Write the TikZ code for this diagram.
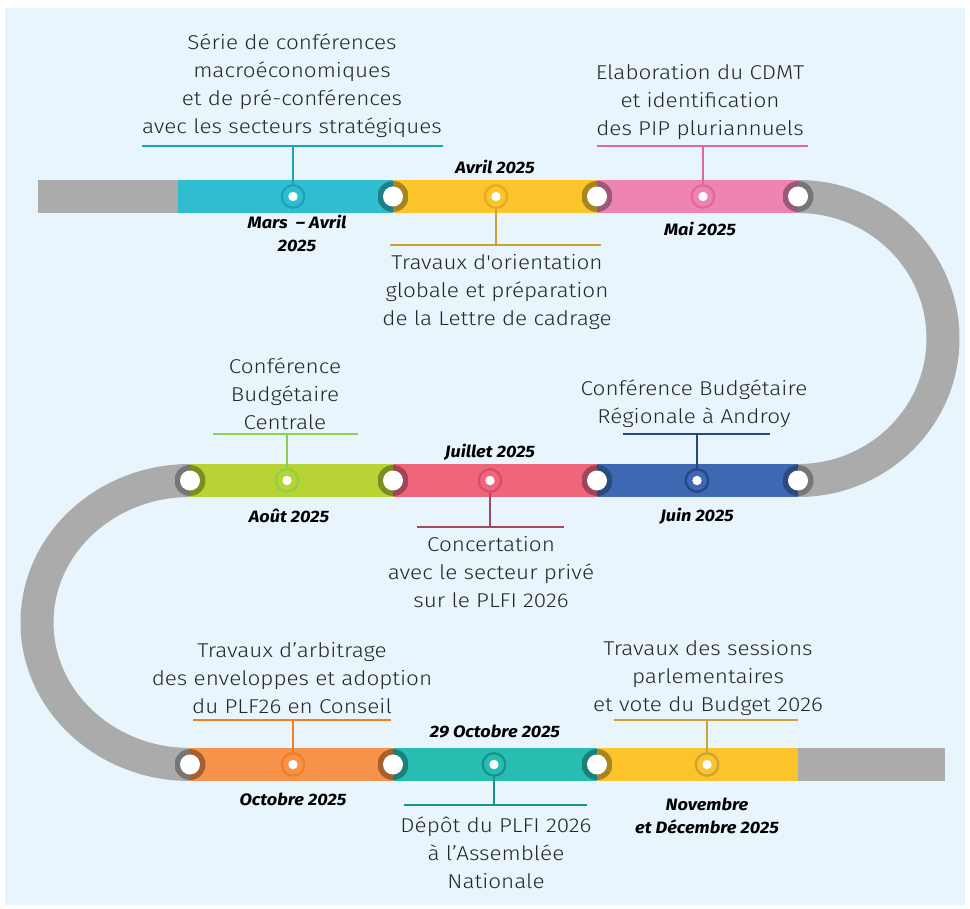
\documentclass[tikz,border=0pt]{standalone}
\usepackage{fontspec}
\setmainfont{Fira Sans}
\newfontfamily\descfont{Fira Sans Light}[FakeStretch=1.125]
\newfontfamily\datefont{Fira Sans}[FakeStretch=1.1]
\definecolor{bg}{HTML}{E9F5FC}
\definecolor{txt}{HTML}{262626}
\definecolor{grayS}{HTML}{ABABAB}
\definecolor{grayD}{HTML}{767676}
\definecolor{cyanS}{HTML}{31BDD0}
\definecolor{cyanD}{HTML}{1E7E8A}
\definecolor{cyanL}{HTML}{1BA2B6}
\definecolor{yelS}{HTML}{FBC42A}
\definecolor{yelD}{HTML}{A8861F}
\definecolor{yelL}{HTML}{C9A23C}
\definecolor{yelR}{HTML}{E4AC24}
\definecolor{pinkS}{HTML}{EF84B0}
\definecolor{pinkD}{HTML}{9D5777}
\definecolor{pinkL}{HTML}{E2679E}
\definecolor{limeS}{HTML}{B7D334}
\definecolor{limeD}{HTML}{7A8E24}
\definecolor{limeL}{HTML}{8ECF4C}
\definecolor{redS}{HTML}{EF6579}
\definecolor{redD}{HTML}{A0445A}
\definecolor{redL}{HTML}{A84860}
\definecolor{redR}{HTML}{D34E68}
\definecolor{blueS}{HTML}{3F68B3}
\definecolor{blueD}{HTML}{2A4A80}
\definecolor{blueL}{HTML}{27467E}
\definecolor{oraS}{HTML}{F6924A}
\definecolor{oraD}{HTML}{A4612F}
\definecolor{oraL}{HTML}{F47E24}
\definecolor{tealS}{HTML}{27BEB1}
\definecolor{tealD}{HTML}{1A8078}
\definecolor{tealL}{HTML}{17948A}
\begin{document}
\begin{tikzpicture}[x=1pt,y=-1pt,
  desc/.style={align=center, text=txt, font=\descfont\fontsize{20}{28}\selectfont, inner sep=0pt},
  datel/.style={align=center, text=black, font=\datefont\fontsize{16.5}{23}\selectfont\bfseries\itshape, inner sep=0pt},
  marker/.style 2 args={circle, draw=#1, line width=2.2pt, fill=#2, minimum size=22.5pt, inner sep=0pt,
     path picture={\fill[white] (path picture bounding box.center) circle (4.7pt);}},
  joint/.style 2 args={circle, minimum size=31pt, inner sep=0pt,
     path picture={\fill[#1] (path picture bounding box.north west) rectangle (path picture bounding box.south);
                   \fill[#2] (path picture bounding box.north) rectangle (path picture bounding box.south east);
                   \fill[white] (path picture bounding box.center) circle (10pt);}},
  conn/.style={line width=2pt, draw=#1}
]
\useasboundingbox (0,0) rectangle (970,909);
\fill[white] (0,0) rectangle (970,909);
\fill[bg] (5,8) rectangle (965,905);

% gray track
\fill[grayS] (38,180) rectangle (178,213);
\fill[grayS] (798,748) rectangle (945,781);
\draw[grayS, line width=33pt] (798,196.5) arc[start angle=-90, end angle=90, x radius=145, y radius=142];
\draw[grayS, line width=33pt] (190,480.5) arc[start angle=270, end angle=90, x radius=153, y radius=142];

% coloured segments
\fill[cyanS] (178,180) rectangle (393,213);
\fill[yelS]  (393,180) rectangle (597,213);
\fill[pinkS] (597,180) rectangle (798,213);
\fill[limeS] (190,464) rectangle (393,497);
\fill[redS]  (393,464) rectangle (597,497);
\fill[blueS] (597,464) rectangle (798,497);
\fill[oraS]  (190,748) rectangle (393,781);
\fill[tealS] (393,748) rectangle (597,781);
\fill[yelS]  (597,748) rectangle (798,781);

% joints
\node[joint={cyanD}{yelD}]  (j1) at (393,196.5) {};
\node[joint={yelD}{pinkD}]  (j2) at (597,196.5) {};
\node[joint={pinkD}{grayD}] (j3) at (798,196.5) {};
\node[joint={grayD}{limeD}] (j4) at (190,480.5) {};
\node[joint={limeD}{redD}]  (j5) at (393,480.5) {};
\node[joint={redD}{blueD}]  (j6) at (597,480.5) {};
\node[joint={blueD}{grayD}] (j7) at (798,480.5) {};
\node[joint={grayD}{oraD}]  (j8) at (190,764.5) {};
\node[joint={oraD}{tealD}]  (j9) at (393,764.5) {};
\node[joint={tealD}{yelD}]  (j10) at (597,764.5) {};

% markers
\node[marker={cyanL}{cyanS}] (m1) at (293,196.5) {};
\node[marker={yelR}{yelS}]   (m2) at (496,196.5) {};
\node[marker={pinkL}{pinkS}] (m3) at (703,196.5) {};
\node[marker={limeL}{limeS}] (m4) at (287,480.5) {};
\node[marker={redR}{redS}]   (m5) at (490,480.5) {};
\node[marker={blueL}{blueS}] (m6) at (697,480.5) {};
\node[marker={oraL}{oraS}]   (m7) at (293,764.5) {};
\node[marker={tealL}{tealS}] (m8) at (494,764.5) {};
\node[marker={yelL}{yelS}]   (m9) at (707,764.5) {};

% underline coordinates
\coordinate (u1) at (293,146); \coordinate (u1a) at (142,146); \coordinate (u1b) at (443,146);
\coordinate (u2) at (496,245); \coordinate (u2a) at (390,245); \coordinate (u2b) at (601,245);
\coordinate (u3) at (703,146); \coordinate (u3a) at (597,146); \coordinate (u3b) at (808,146);
\coordinate (u4) at (287,434); \coordinate (u4a) at (213,434); \coordinate (u4b) at (358,434);
\coordinate (u5) at (490,527); \coordinate (u5a) at (417,527); \coordinate (u5b) at (564,527);
\coordinate (u6) at (697,434); \coordinate (u6a) at (623,434); \coordinate (u6b) at (770,434);
\coordinate (u7) at (293,720); \coordinate (u7a) at (193,720); \coordinate (u7b) at (391,720);
\coordinate (u8) at (494,805); \coordinate (u8a) at (404,805); \coordinate (u8b) at (587,805);
\coordinate (u9) at (707,720); \coordinate (u9a) at (614,720); \coordinate (u9b) at (798,720);

\draw[conn=cyanL] (m1) -- (u1); \draw[conn=cyanL] (u1a) -- (u1b);
\draw[conn=yelL]  (m2) -- (u2); \draw[conn=yelL]  (u2a) -- (u2b);
\draw[conn=pinkL] (m3) -- (u3); \draw[conn=pinkL] (u3a) -- (u3b);
\draw[conn=limeL] (m4) -- (u4); \draw[conn=limeL] (u4a) -- (u4b);
\draw[conn=redL]  (m5) -- (u5); \draw[conn=redL]  (u5a) -- (u5b);
\draw[conn=blueL] (m6) -- (u6); \draw[conn=blueL] (u6a) -- (u6b);
\draw[conn=oraL]  (m7) -- (u7); \draw[conn=oraL]  (u7a) -- (u7b);
\draw[conn=tealL] (m8) -- (u8); \draw[conn=tealL] (u8a) -- (u8b);
\draw[conn=yelL]  (m9) -- (u9); \draw[conn=yelL]  (u9a) -- (u9b);

% descriptions
\node[desc] (t1) at (292,86) {Série de conférences\\macroéconomiques\\et de pré-conférences\\avec les secteurs stratégiques};
\node[desc] (t2) at (497,292) {Travaux d'orientation\\globale et préparation\\de la Lettre de cadrage};
\node[desc] (t3) at (700,102) {Elaboration du CDMT\\et identification\\des PIP pluriannuels};
\node[desc] (t4) at (285,394) {Conférence\\Budgétaire\\Centrale};
\node[desc] (t5) at (694,404) {Conférence Budgétaire\\Régionale à Androy};
\node[desc] (t6) at (491,572) {Concertation\\avec le secteur privé\\sur le PLFI 2026};
\node[desc] (t7) at (292,678) {Travaux d’arbitrage\\des enveloppes et adoption\\du PLF26 en Conseil};
\node[desc] (t8) at (496,853) {Dépôt du PLFI 2026\\à l’Assemblée\\Nationale};
\node[desc] (t9) at (708,678) {Travaux des sessions\\parlementaires\\et vote du Budget 2026};

% dates
\node[datel] (d1) at (297,233) {Mars\ \ – Avril\\2025};
\node[datel] (d2) at (495,167) {Avril 2025};
\node[datel] (d3) at (700,229) {Mai 2025};
\node[datel] (d4) at (490,452) {Juillet 2025};
\node[datel] (d5) at (289,516) {Août 2025};
\node[datel] (d6) at (697,516) {Juin 2025};
\node[datel] (d7) at (495,731) {29 Octobre 2025};
\node[datel] (d8) at (293,799) {Octobre 2025};
\node[datel] (d9) at (707,816) {Novembre\\et Décembre 2025};
\end{tikzpicture}
\end{document}
